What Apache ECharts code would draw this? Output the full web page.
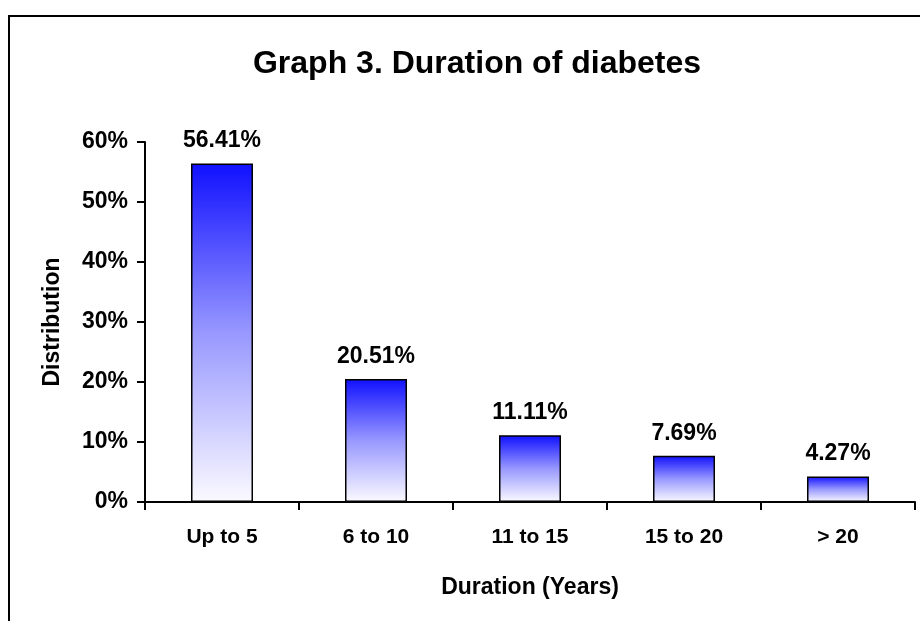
<!DOCTYPE html>
<html>
<head>
<meta charset="utf-8">
<title>Graph 3. Duration of diabetes</title>
<script src="https://cdn.jsdelivr.net/npm/echarts@6/dist/echarts.min.js"></script>
<style>
  html, body { margin: 0; padding: 0; background: #ffffff; }
  #chart { width: 920px; height: 621px; }
</style>
</head>
<body>
<div id="chart"></div>
<script>
// Duration of diabetes among respondents (share of patients, %)
const categories = ['Up to 5', '6 to 10', '11 to 15', '15 to 20', '> 20'];
const shares = [56.41, 20.51, 11.11, 7.69, 4.27];
const yTicks = [0, 10, 20, 30, 40, 50, 60];

const FONT = '"Liberation Sans", Arial, sans-serif';

const chart = echarts.init(document.getElementById('chart'), null, { renderer: 'canvas' });

const barFill = new echarts.graphic.LinearGradient(0, 0, 0, 1, [
  { offset: 0, color: '#1010ff' },
  { offset: 0.5, color: '#9898ff' },
  { offset: 1, color: '#fbfaff' }
]);

chart.setOption({
  backgroundColor: '#ffffff',
  animation: false,
  title: {
    text: 'Graph 3. Duration of diabetes',
    left: 472,
    top: 43,
    textAlign: 'center',
    textStyle: { fontFamily: FONT, fontWeight: 'bold', fontSize: 32, color: '#000000' }
  },
  graphic: [{
    type: 'rect',
    shape: { x: 9, y: 16, width: 940, height: 640 },
    style: { fill: 'none', stroke: '#000000', lineWidth: 2 },
    silent: true
  }],
  grid: { left: 145, right: 5, top: 142, bottom: 119, containLabel: false },
  xAxis: {
    type: 'category',
    data: categories,
    boundaryGap: true,
    name: 'Duration (Years)',
    nameLocation: 'middle',
    nameGap: 74,
    nameTextStyle: { fontFamily: FONT, fontWeight: 'bold', fontSize: 23, color: '#000000' },
    axisLine: { lineStyle: { color: '#000000', width: 2 } },
    axisTick: { show: true, inside: false, length: 8, alignWithLabel: false, lineStyle: { color: '#000000', width: 2 } },
    axisLabel: { margin: 25, fontFamily: FONT, fontWeight: 'bold', fontSize: 21, color: '#000000' },
    splitLine: { show: false }
  },
  yAxis: {
    type: 'value',
    min: yTicks[0],
    max: yTicks[yTicks.length - 1],
    interval: yTicks[1] - yTicks[0],
    name: 'Distribution',
    nameLocation: 'middle',
    nameGap: 81,
    nameRotate: 90,
    nameTextStyle: { fontFamily: FONT, fontWeight: 'bold', fontSize: 23, color: '#000000' },
    axisLine: { show: true, lineStyle: { color: '#000000', width: 2 } },
    axisTick: { show: true, inside: false, length: 8, lineStyle: { color: '#000000', width: 2 } },
    axisLabel: { margin: 17, formatter: '{value}%', fontFamily: FONT, fontWeight: 'bold', fontSize: 23, color: '#000000' },
    splitLine: { show: false }
  },
  series: [{
    type: 'bar',
    data: shares,
    barWidth: 62,
    itemStyle: { color: barFill, borderColor: '#000000', borderWidth: 1.5 },
    label: {
      show: true,
      position: 'top',
      distance: 11,
      formatter: (p) => p.value.toFixed(2) + '%',
      fontFamily: FONT,
      fontWeight: 'bold',
      fontSize: 23,
      color: '#000000'
    }
  }]
});
</script>
</body>
</html>
